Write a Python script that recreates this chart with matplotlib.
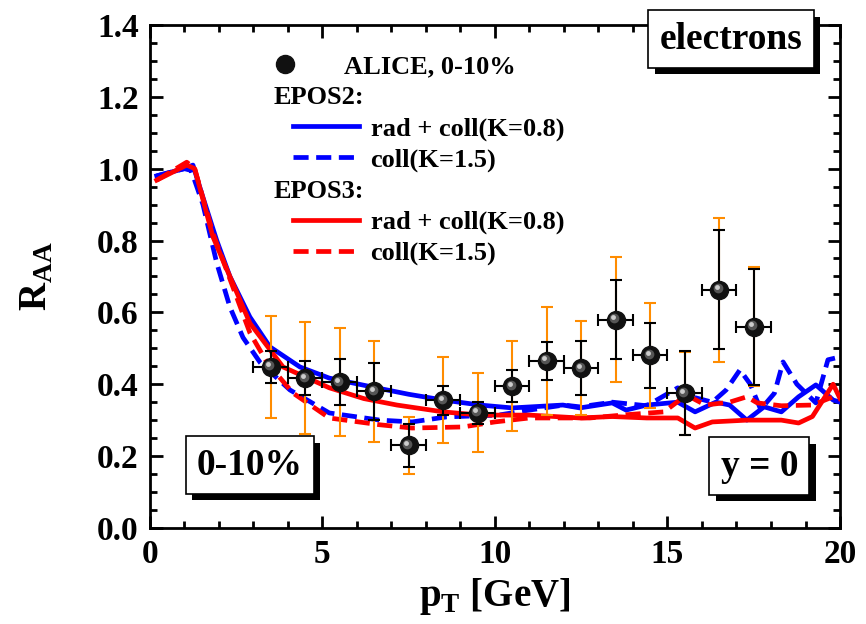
import numpy as np
import matplotlib
matplotlib.use("Agg")
import matplotlib.pyplot as plt
import matplotlib.patheffects as pe
from matplotlib.lines import Line2D
from matplotlib import transforms

# ALICE data, 0-10%
pt_data = [3.5, 4.5, 5.5, 6.5, 7.5, 8.5, 9.5, 10.5, 11.5, 12.5, 13.5, 14.5, 15.5, 16.5, 17.5]
raa_data = [0.448, 0.417, 0.406, 0.38, 0.23, 0.355, 0.32, 0.395, 0.465, 0.445, 0.58, 0.48, 0.375, 0.663, 0.56]
stat_err = [0.045, 0.048, 0.065, 0.08, 0.06, 0.04, 0.03, 0.045, 0.052, 0.075, 0.11, 0.09, 0.117, 0.165, 0.162]
sys_err = [0.143, 0.155, 0.15, 0.14, 0.08, 0.12, 0.11, 0.125, 0.15, 0.13, 0.175, 0.145, 0.115, 0.2, 0.165]
pt_bin = [0.5] * len(pt_data)

# EPOS2 rad + coll (K=0.8)
pt_e2_rc = [0.2, 1.0, 1.25, 1.54, 1.94, 2.32, 2.9, 3.48, 4.35, 5.2, 6.46, 7.5, 8.5, 9.57, 10.5, 11.97,
            12.46, 13.4, 13.8, 14.4, 15.3, 15.8, 16.4, 16.8, 17.3, 17.8, 18.3, 18.8, 19.3, 19.8, 20.0]
raa_e2_rc = [0.98, 1.0, 1.01, 0.92, 0.80, 0.70, 0.587, 0.504, 0.448, 0.417, 0.392, 0.372, 0.356, 0.342, 0.334, 0.342,
             0.334, 0.348, 0.328, 0.342, 0.35, 0.323, 0.35, 0.342, 0.30, 0.337, 0.323, 0.365, 0.398, 0.356, 0.35]

# EPOS2 coll (K=1.5)
pt_e2_c = [0.2, 1.0, 1.2, 1.54, 1.94, 2.32, 2.7, 3.2, 4.06, 5.2, 6.67, 7.6, 8.6, 10.1, 11.0, 12.0,
           12.46, 13.4, 14.4, 15.3, 15.7, 16.3, 16.7, 17.1, 17.4, 17.7, 18.1, 18.35, 18.75, 19.3, 19.65, 20.0]
raa_e2_c = [0.98, 1.0, 0.995, 0.90, 0.737, 0.615, 0.53, 0.46, 0.384, 0.32, 0.30, 0.295, 0.309, 0.314, 0.328, 0.342,
            0.337, 0.35, 0.34, 0.39, 0.365, 0.35, 0.384, 0.44, 0.40, 0.33, 0.375, 0.462, 0.40, 0.348, 0.468, 0.476]

# EPOS3 rad + coll (K=0.8)
pt_e3_rc = [0.2, 1.07, 1.3, 1.83, 2.9, 3.86, 5.2, 6.2, 7.16, 8.5, 9.57, 11.0, 12.46, 13.4, 14.4, 15.3,
            15.8, 16.3, 17.3, 18.3, 18.8, 19.2, 19.8, 20.0]
raa_e3_rc = [0.968, 1.01, 1.0, 0.81, 0.57, 0.448, 0.39, 0.36, 0.342, 0.323, 0.314, 0.314, 0.306, 0.31, 0.306, 0.306,
             0.278, 0.295, 0.30, 0.30, 0.292, 0.31, 0.40, 0.36]

# EPOS3 coll (K=1.5)
pt_e3_c = [0.2, 1.07, 1.3, 1.83, 2.9, 3.4, 4.14, 5.2, 6.67, 7.6, 9.07, 10.0, 11.0, 12.75, 13.8, 14.9,
           15.55, 16.1, 16.8, 17.3, 17.6, 18.3, 19.2, 19.8, 20.0]
raa_e3_c = [0.968, 1.018, 1.0, 0.82, 0.543, 0.46, 0.376, 0.306, 0.287, 0.278, 0.281, 0.295, 0.306, 0.306, 0.315, 0.323,
            0.37, 0.342, 0.35, 0.365, 0.348, 0.34, 0.342, 0.365, 0.37]

plt.rcParams['font.family'] = ['Liberation Serif', 'DejaVu Serif']
plt.rcParams['font.weight'] = 'bold'
plt.rcParams['axes.labelweight'] = 'bold'
plt.rcParams['mathtext.fontset'] = 'custom'
plt.rcParams['mathtext.rm'] = 'Liberation Serif:bold'
plt.rcParams['mathtext.bf'] = 'Liberation Serif:bold'

fig = plt.figure(figsize=(8.66, 6.24), dpi=100)
ax = fig.add_axes([0.173, 0.154, 0.797, 0.806])

blue = '#0000ff'
red = '#ff0000'
orange = '#ff8c00'
dash = (0, (3.2, 1.6))
lw = 3.4

ax.plot(pt_e2_rc, raa_e2_rc, color=blue, lw=lw, zorder=3)
ax.plot(pt_e2_c, raa_e2_c, color=blue, lw=lw, ls=dash, zorder=3)
ax.plot(pt_e3_rc, raa_e3_rc, color=red, lw=lw, zorder=3)
ax.plot(pt_e3_c, raa_e3_c, color=red, lw=lw, ls=dash, zorder=3)

# systematic errors (orange)
ax.errorbar(pt_data, raa_data, yerr=sys_err, fmt='none', ecolor=orange, elinewidth=1.5,
            capsize=4, capthick=1.5, zorder=4)
# statistical errors (black)
ax.errorbar(pt_data, raa_data, xerr=pt_bin, yerr=stat_err, fmt='none', ecolor='black',
            elinewidth=1.5, capsize=4, capthick=1.5, zorder=5)
# balls
ax.plot(pt_data, raa_data, 'o', color='#111111', ms=13, zorder=6)
hl1 = transforms.offset_copy(ax.transData, fig=fig, x=-1.5, y=1.5, units='dots')
hl2 = transforms.offset_copy(ax.transData, fig=fig, x=-2.5, y=2.5, units='dots')
ax.plot(pt_data, raa_data, 'o', color='#555555', ms=7, mew=0, transform=hl1, zorder=7)
ax.plot(pt_data, raa_data, 'o', color='#cccccc', ms=3.5, mew=0, transform=hl2, zorder=8)

ax.set_xlim(0, 20)
ax.set_ylim(0, 1.4)
ax.set_xticks([0, 5, 10, 15, 20])
ax.set_yticks(np.arange(0, 1.41, 0.2))
ax.set_yticklabels(['%.1f' % v for v in np.arange(0, 1.41, 0.2)])
ax.set_xticks(np.arange(0, 20.1, 1), minor=True)
ax.set_yticks(np.arange(0, 1.41, 0.05), minor=True)
ax.tick_params(which='both', direction='in', top=True, right=True, width=2)
ax.tick_params(which='major', length=9, labelsize=24, pad=8)
ax.tick_params(which='minor', length=5)
for s in ax.spines.values():
    s.set_linewidth(2)

ax.set_xlabel(r'p$_\mathrm{T}$ [GeV]', fontsize=28, labelpad=4)
ax.set_ylabel(r'R$_\mathrm{AA}$', fontsize=28, labelpad=30)

# legend
handles = [
    Line2D([], [], ls='none', marker='o', color='#111111', ms=13),
    Line2D([], [], ls='none'),
    Line2D([], [], color=blue, lw=lw),
    Line2D([], [], color=blue, lw=lw, ls=dash),
    Line2D([], [], ls='none'),
    Line2D([], [], color=red, lw=lw),
    Line2D([], [], color=red, lw=lw, ls=dash),
]
labels = ['ALICE, 0-10%', 'EPOS2:', 'rad + coll(K=0.8)', 'coll(K=1.5)',
          'EPOS3:', 'rad + coll(K=0.8)', 'coll(K=1.5)']
leg = ax.legend(handles, labels, loc='upper left', bbox_to_anchor=(0.207, 0.94),
                frameon=False, fontsize=19, handlelength=2.5, handletextpad=0.45,
                labelspacing=0.28, borderpad=0, borderaxespad=0)
texts = leg.get_texts()
texts[0].set_x(-27)
texts[1].set_x(-97)
texts[4].set_x(-97)
# move ALICE ball to the left end of its handle
ball = leg.legend_handles[0]
ball.set_xdata(np.asarray(ball.get_xdata()) - 29)


def shadow_box(x, y, s, ha='center'):
    t = ax.text(x, y, s, transform=ax.transAxes, fontsize=27, ha=ha, va='center',
                zorder=20, clip_on=False,
                bbox=dict(boxstyle='square,pad=0.3', facecolor='white', edgecolor='black', lw=1.2))
    t.get_bbox_patch().set_path_effects([
        pe.SimplePatchShadow(offset=(4.5, -4.5), shadow_rgbFace='black', alpha=1.0),
        pe.Normal()])
    return t


shadow_box(0.842, 0.972, 'electrons')
shadow_box(0.145, 0.125, '0-10%')
shadow_box(0.883, 0.123, 'y = 0')

fig.savefig('out.png', dpi=100)
